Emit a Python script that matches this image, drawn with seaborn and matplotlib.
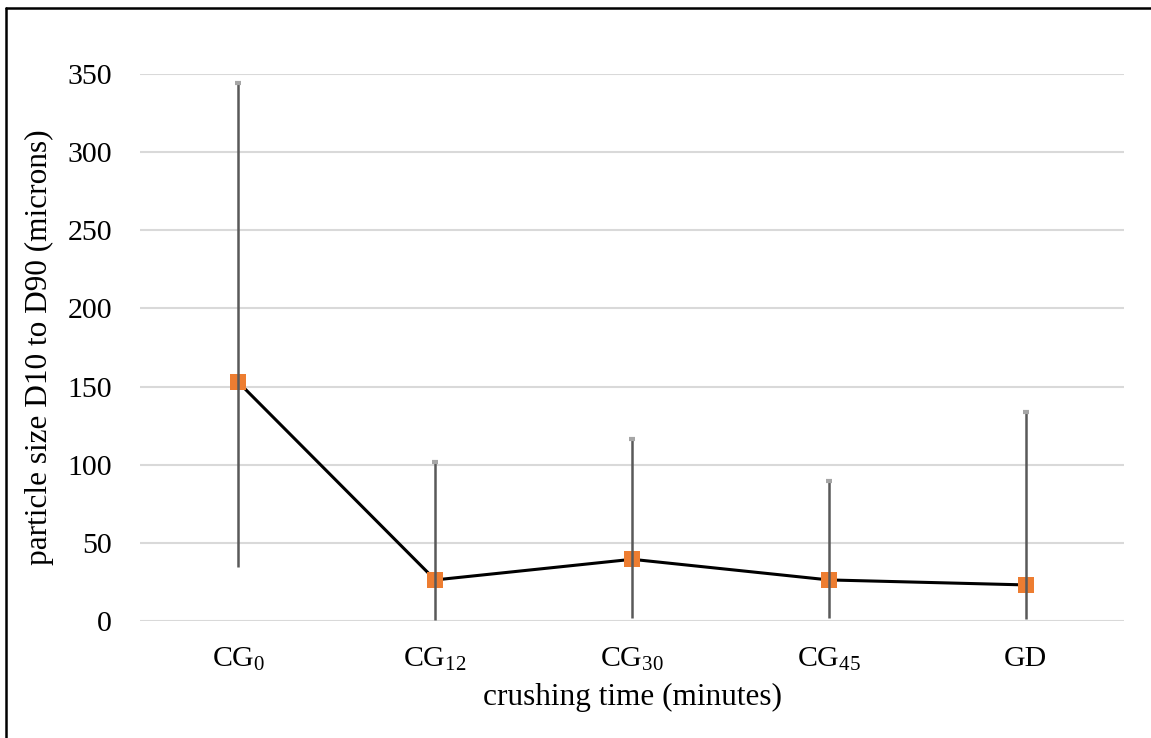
import matplotlib
matplotlib.use("Agg")
import matplotlib.pyplot as plt
import seaborn as sns
import pandas as pd
import numpy as np
from matplotlib.lines import Line2D

categories = ["CG$_{0}$", "CG$_{12}$", "CG$_{30}$", "CG$_{45}$", "GD"]
mean_size = [152.8, 26.3, 39.5, 26.3, 23.1]
d10 = [34.8, 0.6, 2.1, 1.7, 1.3]
d90 = [344.0, 101.7, 116.7, 89.3, 133.5]
y_ticks = [0, 50, 100, 150, 200, 250, 300, 350]

sns.set_theme(style="white")
plt.rcParams['font.family'] = ['Liberation Serif', 'DejaVu Serif']
plt.rcParams['mathtext.fontset'] = 'custom'
plt.rcParams['mathtext.rm'] = 'Liberation Serif'
plt.rcParams['mathtext.it'] = 'Liberation Serif'

df = pd.DataFrame({"cat": categories, "size": mean_size, "lo": d10, "hi": d90})
df["x"] = np.arange(len(df))

fig = plt.figure(figsize=(11.51, 7.38), dpi=100)
ax = fig.add_axes([0.1216, 0.1585, 0.9766 - 0.1216, 0.8997 - 0.1585])

sns.lineplot(data=df, x="x", y="size", ax=ax, color="black", linewidth=2.2,
             marker="s", markersize=11, markerfacecolor="#ED7D31",
             markeredgecolor="#ED7D31", markeredgewidth=0, zorder=3)

yerr = np.vstack([df["size"] - df["lo"], df["hi"] - df["size"]])
ax.errorbar(df["x"], df["size"], yerr=yerr, fmt="none", ecolor="#595959",
            elinewidth=1.8, capsize=0, zorder=4)
ax.plot(df["x"], df["hi"], linestyle="none", marker="_", markersize=5,
        markeredgewidth=3, color="#a6a6a6", zorder=4)

ax.set_xlim(-0.5, 4.5)
ax.set_ylim(0, 350)
ax.set_yticks(y_ticks)
ax.set_xticks(df["x"])
ax.set_xticklabels(categories)
ax.tick_params(axis="both", labelsize=21.5, length=0, colors="black")
ax.tick_params(axis="y", pad=20)
ax.tick_params(axis="x", pad=18)
ax.yaxis.grid(True, color="#d9d9d9", linewidth=1.5)
ax.xaxis.grid(False)
for s in ax.spines.values():
    s.set_visible(False)
ax.set_xlabel("crushing time (minutes)", fontsize=22.5, color="black", labelpad=7)
ax.set_ylabel("particle size D10 to D90 (microns)", fontsize=22.5, color="black", labelpad=10)

fig.add_artist(Line2D([5.5/1151, 1.0], [1 - 7.5/738, 1 - 7.5/738], transform=fig.transFigure,
                      color="black", linewidth=1.8))
fig.add_artist(Line2D([5.5/1151, 5.5/1151], [0, 1 - 7.5/738], transform=fig.transFigure,
                      color="black", linewidth=1.8))

fig.savefig("out.png", dpi=100)
